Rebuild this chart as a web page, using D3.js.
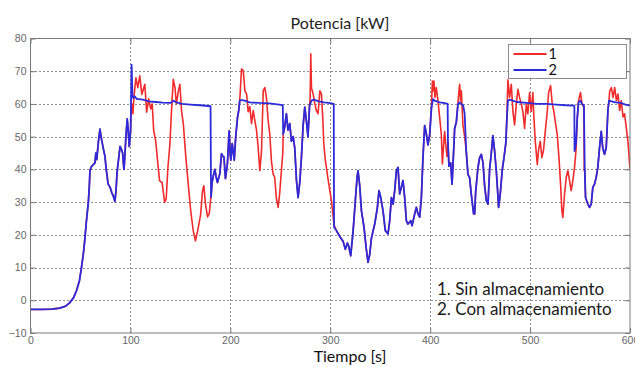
<!DOCTYPE html>
<html>
<head>
<meta charset="utf-8">
<script src="https://cdn.jsdelivr.net/npm/d3@7"></script>
<style>
  html, body { margin: 0; padding: 0; background: #fff; }
  svg { display: block; }
</style>
</head>
<body>
<script>
// Axis ticks
const timeTicks = [0, 100, 200, 300, 400, 500, 600];
const powerTicks = [-10, 0, 10, 20, 30, 40, 50, 60, 70, 80];

// Texts
const chartTitle = "Potencia [kW]";
const timeLabel = "Tiempo [s]";
const seriesNames = ["1", "2"];
const seriesNotes = ["1. Sin almacenamiento", "2. Con almacenamiento"];

// Series 2 – con almacenamiento: [tiempo s, potencia kW]
const potenciaCon = [
  [0,-2.8],[11.4,-2.8],[21.3,-2.7],[29.2,-2.4],[35.2,-1.8],[39.1,-0.8],[43.1,0.8],[46,2.9],
  [49,6],[51,10],[53,14.5],[54.5,19],[55.9,24],[57.9,30],[58.9,35],[59.5,39.6],[60.9,40.8],
  [62.9,41.5],[64.5,42],[65.4,45],[66.3,43],[67.8,48],[69.5,52.3],[71.2,49],[72.8,46.5],
  [74.5,44],[75.8,40],[77.7,35.5],[79.7,34.5],[81.2,33],[82.7,32],[84.5,30.2],[85.7,34],
  [86.6,39],[88.1,43],[89.6,47],[91.1,46],[92.2,45],[92.9,42],[93.6,40],[94.6,45],[95.5,50],
  [96.8,55.4],[97.8,52],[98.8,47],[99.7,50],[100.2,52],[101.2,72],[102,63],[102.8,61.8],
  [104.5,62.3],[106.4,61.5],[108.4,61.5],[112.4,61.3],[118.3,60.8],[125.3,60.6],[132.2,60.4],
  [140.1,60.3],[143.1,61],[146,60.5],[152,60],[159.9,59.8],[169.8,59.6],[180.2,59.3],
  [180.7,31.5],[181.7,36],[182.9,38],[184.5,40],[185.6,38],[187.1,36],[189.5,38.7],[191.2,44.8],
  [192.6,44],[193.6,43.8],[195.1,37.2],[197.1,41.8],[198.8,51.8],[199.8,45],[200.5,42.8],
  [201.9,47.9],[203.9,42.8],[205.4,50],[207.2,55.9],[208.4,58],[209.4,61],[211.2,61.2],
  [214.4,61],[219.3,60.5],[229.2,60.3],[239.1,60.2],[249,59.8],[252.5,59.6],[252.9,50.8],
  [254.4,53],[256.1,57],[257.7,52],[259.5,54],[261.1,48.6],[262.9,50],[264.5,46.4],[266.2,36.6],
  [267.8,31.4],[269.5,36],[271.2,43.9],[272.8,53.2],[274.5,59],[276.1,55],[277.7,50],[279.3,59.5],
  [281.2,61],[283.6,61.3],[288.6,60.8],[293.5,60.5],[298.5,60.3],[303.5,60],[303.8,22.3],
  [306.2,21.3],[309.5,19.5],[312.9,18],[315.1,15.6],[317.2,17.5],[318.5,16.5],[320.5,13.6],
  [322.9,21.3],[325.1,30.4],[326.8,37.5],[327.8,39.6],[329.5,35],[331.2,27.4],[333.8,22.3],
  [336.1,15.6],[337.8,11.6],[339.5,14],[341.2,19],[344.5,23.3],[347.2,28.4],[348.8,33.5],
  [350.5,31.4],[352.8,27.4],[355.1,21.3],[357.8,20.3],[359.5,24.3],[361.2,31.4],[362.9,29.4],
  [364.5,33.5],[366.2,39.6],[367.8,40.6],[369.5,32.5],[371.1,34.5],[372.8,36.6],[374.5,31.4],
  [376.2,24.3],[377.8,23.3],[380.5,24.3],[381.9,22.8],[384.5,26.4],[386.2,28.4],[387.8,26.4],
  [389.5,25.4],[391.2,31.4],[392.8,43.6],[394.5,53.4],[396.2,50.8],[397.8,47.5],[399.5,50.5],
  [401.2,58.5],[402.8,61.5],[404.4,61],[409.4,60.5],[413.3,60.3],[417.5,60],[417.8,48.3],
  [418.8,41],[420.5,42],[421.9,35.5],[423.5,45.6],[424.5,52.5],[426.2,54.5],[427.8,60],
  [429.5,60.5],[431.2,60],[433.1,59.5],[434.5,57],[436.1,45.6],[437.8,38.5],[439.5,37.5],
  [441.1,32.5],[443.5,26.4],[444.5,26.4],[445.5,33],[447.8,40.5],[449.5,43.6],[451.2,44.6],
  [452.9,42],[454.5,35],[456.2,30.5],[457.9,29.4],[459.5,40],[461.2,45],[462.8,50.3],
  [464.5,45.6],[466.2,39.5],[467.8,32],[468.5,28.4],[470.3,33],[472.2,40],[473.9,43.6],
  [475.7,48],[476.7,55],[477.8,61],[479.7,61.3],[486.6,60.6],[496.5,60.3],[506.4,60],
  [516.3,60],[526.2,59.8],[536.1,59.6],[544.3,59.5],[544.5,45.6],[546,48],[547.2,55.5],
  [548.5,60.5],[550.5,61],[551.9,60],[553.9,59.6],[554.7,40],[555.5,31.4],[557.8,29.4],
  [559.5,28.4],[561.2,29.4],[562.8,34.5],[564.5,35.5],[566.2,37.6],[567.8,40.6],[569.5,46.6],
  [571.2,51.6],[572.7,46.6],[574.5,44.6],[576.2,46.6],[577.9,58],[579,61],[581.6,60.8],
  [585.6,60.5],[590.6,60.3],[595.5,59.8],[600,59.5]
];

// Series 1 – sin almacenamiento. Outside these stretches it runs
// exactly along series 2; inside them it follows its own values.
const tramosSin = [
  [[100.7,58],[101.5,60],[102.5,57],[103.5,62],[105.5,68],[107.4,65],[109.4,68.6],[111.4,62.9],
   [114.4,66],[116.3,57.5],[118.3,61.6],[120.3,58.5],[121.8,60],[123.3,51.8],[125.3,48.7],
   [127.2,42.6],[129.2,36.5],[131.7,36],[134.2,29.9],[135.8,31],[137.5,40.5],[139.5,47.6],
   [141.1,57.8],[142.9,67.5],[144.6,65],[146,60],[148,64],[149.5,66],[151.2,57.8],[153,53.8],
   [155.5,43.6],[157.9,35.4],[160.4,27.2],[162.9,21.2],[165.1,18.2],[167.3,21.2],[170.2,26],
   [172.2,33.5],[173.5,35],[175.1,29.5],[177.2,25.5],[178.9,26.5],[180.5,31.4]],
  [[211.2,70.7],[212.9,70.2],[214.6,64],[216.3,63],[217.8,57.6],[219.5,59.2],[221.2,54],
   [222.9,58],[224.5,55],[226.2,52],[227.8,47],[229.5,39.6],[231.2,45.6],[232.9,64],[234.5,65],
   [236.1,62],[237.8,55],[239.5,50.8],[241.1,42.7],[242.8,38.6],[244.4,37.6],[246,31.4],
   [247.8,28.4],[249.5,33],[251.2,40],[252.5,45]],
  [[279.9,62],[280.5,75.3],[281.2,65],[282.9,63],[284.6,60],[286.1,58],[287.8,57],[289.6,64],
   [291.2,63],[292.6,55],[293.5,48],[295,43],[297.8,37],[301.2,30.4],[303.8,23]],
  [[401.2,58.5],[402.2,67],[402.8,64],[403.8,67],[404.8,62],[406.1,65],[407.8,61],[409.5,55.9],
   [411.2,50.6],[412.2,41.7],[413.5,47.6],[414.5,51.6],[415.5,48],[416.8,44],[417.5,46]],
  [[428.8,64],[429.5,66],[430.5,61],[431.2,64],[432.1,58],[432.8,53.6],[434.5,50]],
  [[477.8,67.4],[479.5,62],[481.2,66],[482.8,57.7],[484.5,53.6],[486.2,60],[487.8,64.5],
   [489.5,62],[491.2,60],[492.8,57.7],[494.5,52.5],[496.2,60],[497.8,57],[499.5,63.5],
   [501.2,57.7],[502.8,63.5],[503.8,56],[505.2,48.6],[507.2,41.5],[508.5,46],[510.2,48.6],
   [511.8,43.6],[513.5,46],[515.2,51.6],[517.2,57.7],[518.5,63.5],[520.5,65.6],[522.2,60],
   [523.8,57.7],[525.5,54],[527.2,50.6],[528.9,43.6],[530.5,35.5],[531.8,27.4],[532.8,25.3],
   [534.5,32.5],[536.2,37.6],[537.8,39.6],[539.5,36.6],[541.1,33.5],[542.8,36.6],[544.5,40.6],
   [546,46],[547.2,55.5],[548.5,61],[550.5,63.5],[551.9,60],[553.9,59],[554.2,39.6]],
  [[579.7,64],[581.4,65],[583,62],[584.7,65],[586.4,61],[588,63],[589.6,58],[591.3,61],
   [593,56],[594.5,57],[596.2,53],[597.9,48.6],[600,40]]
];

// Full series 1: series 2 outside the stretches, plus the stretch points.
const potenciaSin = (() => {
  const inside = t => tramosSin.some(s => t >= s[0][0] && t <= s[s.length - 1][0]);
  const pts = potenciaCon.filter(p => !inside(p[0])).concat(...tramosSin);
  return pts.sort((a, b) => a[0] - b[0]);
})();

const W = 635, H = 367;
const plot = { left: 30.5, right: 630, top: 38.5, bottom: 333 };
const colors = { sin: "#f02b2b", con: "#2b2bdc", frame: "#7a7a7a", grid: "#8e8e8e", tick: "#666" };

const svg = d3.select("body").append("svg").attr("width", W).attr("height", H);

const x = d3.scaleLinear().domain([0, 600]).range([plot.left, plot.right]);
const y = d3.scaleLinear().domain([-10, 80]).range([plot.bottom, plot.top]);

// Dotted grid
const grid = svg.append("g").attr("stroke", colors.grid).attr("stroke-width", 1)
  .attr("stroke-dasharray", "2,2").attr("shape-rendering", "crispEdges");
grid.selectAll("line.v").data(timeTicks.slice(1, -1)).join("line").attr("class", "v")
  .attr("x1", d => Math.round(x(d)) + 0.5).attr("x2", d => Math.round(x(d)) + 0.5)
  .attr("y1", plot.top).attr("y2", plot.bottom);
grid.selectAll("line.h").data(powerTicks.slice(1, -1)).join("line").attr("class", "h")
  .attr("y1", d => Math.round(y(d)) + 0.5).attr("y2", d => Math.round(y(d)) + 0.5)
  .attr("x1", plot.left).attr("x2", plot.right);

// Axes with inward ticks on all four sides
function styleAxis(g) {
  g.select(".domain").remove();
  g.selectAll(".tick line").attr("stroke", colors.frame);
  g.selectAll(".tick text").attr("fill", colors.tick)
    .attr("font-family", "'Liberation Sans', Arial, sans-serif").attr("font-size", 10.5);
}
svg.append("g").attr("transform", `translate(0,${plot.bottom})`)
  .call(d3.axisBottom(x).tickValues(timeTicks).tickSize(-5).tickPadding(4).tickFormat(d3.format("d")))
  .call(styleAxis);
svg.append("g").attr("transform", `translate(${plot.left},0)`)
  .call(d3.axisLeft(y).tickValues(powerTicks).tickSize(-5).tickPadding(4).tickFormat(d3.format("d")))
  .call(styleAxis);
svg.append("g").attr("transform", `translate(0,${plot.top})`)
  .call(d3.axisTop(x).tickValues(timeTicks).tickSize(-5).tickFormat(""))
  .call(styleAxis);
svg.append("g").attr("transform", `translate(${plot.right},0)`)
  .call(d3.axisRight(y).tickValues(powerTicks).tickSize(-5).tickFormat(""))
  .call(styleAxis);

// Series lines
svg.append("clipPath").attr("id", "plotArea").append("rect")
  .attr("x", plot.left).attr("y", plot.top)
  .attr("width", plot.right - plot.left).attr("height", plot.bottom - plot.top);
const line = d3.line().x(d => x(d[0])).y(d => y(d[1]));
const lines = svg.append("g").attr("clip-path", "url(#plotArea)").attr("fill", "none")
  .attr("stroke-linejoin", "round");
lines.append("path").datum(potenciaSin).attr("d", line)
  .attr("stroke", colors.sin).attr("stroke-width", 1.6);
lines.append("path").datum(potenciaCon).attr("d", line)
  .attr("stroke", colors.con).attr("stroke-width", 1.8);

// Frame
svg.append("rect").attr("x", plot.left).attr("y", plot.top)
  .attr("width", plot.right - plot.left).attr("height", plot.bottom - plot.top)
  .attr("fill", "none").attr("stroke", colors.frame).attr("stroke-width", 1);

// Legend
const legend = svg.append("g").attr("transform", "translate(508.5,44.5)");
legend.append("rect").attr("width", 118).attr("height", 34)
  .attr("fill", "#fff").attr("stroke", "#8a8a8a").attr("stroke-width", 1);
[colors.sin, colors.con].forEach((c, i) => {
  const yy = 9.5 + i * 16;
  legend.append("line").attr("x1", 5).attr("x2", 38).attr("y1", yy).attr("y2", yy)
    .attr("stroke", c).attr("stroke-width", 1.8);
  legend.append("text").attr("x", 40).attr("y", yy).attr("dy", "0.36em")
    .attr("font-family", "Lato, 'Open Sans', sans-serif").attr("font-size", 14.5).attr("fill", "#111")
    .text(seriesNames[i]);
});

// Titles
const textFont = "Lato, 'Open Sans', sans-serif";
svg.append("text").attr("x", 340).attr("y", 29).attr("text-anchor", "middle")
  .attr("font-family", textFont).attr("font-size", 16).attr("fill", "#222").text(chartTitle);
svg.append("text").attr("x", 350).attr("y", 362).attr("text-anchor", "middle")
  .attr("font-family", textFont).attr("font-size", 16).attr("fill", "#111").text(timeLabel);

// Notes inside the plot
seriesNotes.forEach((t, i) => {
  svg.append("text").attr("x", 437).attr("y", 295 + i * 19.5)
    .attr("font-family", textFont).attr("font-size", 17).attr("fill", "#1a1a1a").text(t);
});
</script>
</body>
</html>
